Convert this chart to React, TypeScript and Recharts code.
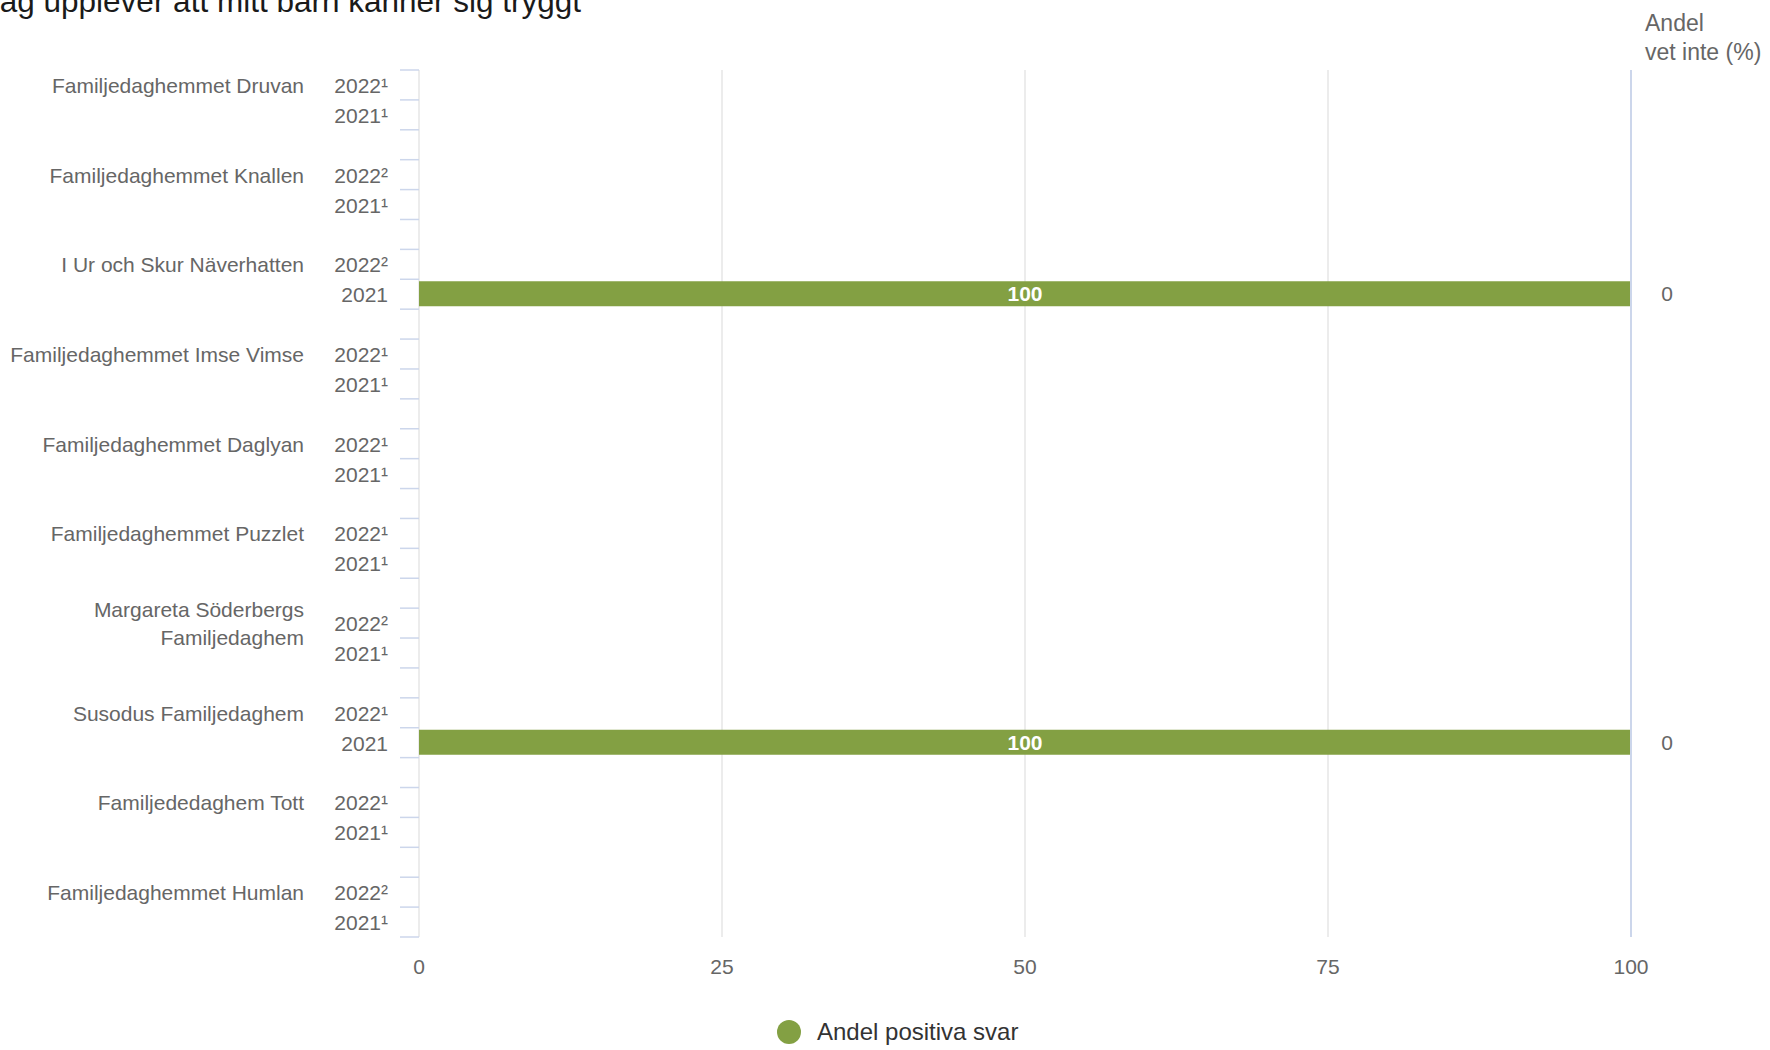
import React from "react";
import {
  BarChart,
  Bar,
  XAxis,
  YAxis,
  CartesianGrid,
  LabelList,
  Legend,
} from "recharts";

// ---- data ----
const title = "Jag upplever att mitt barn känner sig tryggt";
const sideHeader = ["Andel", "vet inte (%)"];
const seriesName = "Andel positiva svar";

const groups = [
  "Familjedaghemmet Druvan",
  "Familjedaghemmet Knallen",
  "I Ur och Skur Näverhatten",
  "Familjedaghemmet Imse Vimse",
  "Familjedaghemmet Daglyan",
  "Familjedaghemmet Puzzlet",
  "Margareta Söderbergs Familjedaghem",
  "Susodus Familjedaghem",
  "Familjededaghem Tott",
  "Familjedaghemmet Humlan",
];
const years2022 = ["2022¹", "2022²", "2022²", "2022¹", "2022¹", "2022¹", "2022²", "2022¹", "2022¹", "2022²"];
const years2021 = ["2021¹", "2021¹", "2021", "2021¹", "2021¹", "2021¹", "2021¹", "2021", "2021¹", "2021¹"];
const positive2022: (number | null)[] = [null, null, null, null, null, null, null, null, null, null];
const positive2021: (number | null)[] = [null, null, 100, null, null, null, null, 100, null, null];
const vetInte2022: (number | null)[] = [null, null, null, null, null, null, null, null, null, null];
const vetInte2021: (number | null)[] = [null, null, 0, null, null, null, null, 0, null, null];
const xTicks = [0, 25, 50, 75, 100];

// ---- layout / style ----
const W = 1770;
const H = 1050;
const TOP = 70;
const BOTTOM_MARGIN = 73;
const X_AXIS_H = 40;
const LEFT_W = 419;
const RIGHT_W = 139;
const FONT = "'Liberation Sans', Arial, Helvetica, sans-serif";
const LABEL_COLOR = "#666666";
const GREEN = "#83A043";
const TICK_BLUE = "#ccd6eb";

type Row = {
  id: string;
  group: string;
  year: string;
  positive: number | null;
  vetInte: number | null;
};

const rows: Row[] = [];
groups.forEach((g, i) => {
  rows.push({ id: `${i}-a`, group: g, year: years2022[i], positive: positive2022[i], vetInte: vetInte2022[i] });
  rows.push({ id: `${i}-b`, group: "", year: years2021[i], positive: positive2021[i], vetInte: vetInte2021[i] });
  if (i < groups.length - 1) {
    rows.push({ id: `${i}-gap`, group: "", year: "", positive: null, vetInte: null });
  }
});
const rowById: Record<string, Row> = {};
rows.forEach((r) => (rowById[r.id] = r));

const PLOT_H = H - TOP - BOTTOM_MARGIN - X_AXIS_H;
const BAND = PLOT_H / rows.length;

function wrap(text: string, max = 28): string[] {
  const words = text.split(" ");
  const lines: string[] = [];
  let cur = "";
  words.forEach((w) => {
    const next = cur ? cur + " " + w : w;
    if (next.length > max && cur) {
      lines.push(cur);
      cur = w;
    } else {
      cur = next;
    }
  });
  if (cur) lines.push(cur);
  return lines;
}

const LeftTick = (props: any) => {
  const { x, y, payload, index } = props;
  const row = rowById[payload.value];
  const lines = row && row.group ? wrap(row.group) : [];
  const isLast = index === rows.length - 1;
  return (
    <g>
      <line x1={x - 19} x2={x} y1={y - BAND / 2} y2={y - BAND / 2} stroke={TICK_BLUE} strokeWidth={1.5} />
      {isLast && (
        <line x1={x - 19} x2={x} y1={y + BAND / 2} y2={y + BAND / 2} stroke={TICK_BLUE} strokeWidth={1.5} />
      )}
      {row && row.year && (
        <text x={x - 31} y={y + 8} textAnchor="end" fontSize={21} fill={LABEL_COLOR} fontFamily={FONT}>
          {row.year}
        </text>
      )}
      {lines.map((ln, k) => (
        <text
          key={k}
          x={x - 115}
          y={y + 8 + (k - (lines.length - 1) / 2) * 28}
          textAnchor="end"
          fontSize={21}
          fill={LABEL_COLOR}
          fontFamily={FONT}
        >
          {ln}
        </text>
      ))}
    </g>
  );
};

const RightTick = (props: any) => {
  const { x, y, payload } = props;
  const row = rowById[payload.value];
  if (!row || row.vetInte === null || row.vetInte === undefined) return <g />;
  return (
    <text x={x + 36} y={y + 7} textAnchor="middle" fontSize={21} fill={LABEL_COLOR} fontFamily={FONT}>
      {row.vetInte}
    </text>
  );
};

const XTick = (props: any) => {
  const { x, y, payload } = props;
  return (
    <text x={x} y={y + 37} textAnchor="middle" fontSize={21} fill={LABEL_COLOR} fontFamily={FONT}>
      {payload.value}
    </text>
  );
};

const LegendContent = () => (
  <div style={{ display: "flex", alignItems: "center", height: 24, fontFamily: FONT }}>
    <span
      style={{ width: 24, height: 24, borderRadius: 12, background: GREEN, display: "inline-block" }}
    />
    <span style={{ marginLeft: 16, fontSize: 24, color: "#333333", lineHeight: "24px", whiteSpace: "nowrap" }}>
      {seriesName}
    </span>
  </div>
);

export default function App() {
  return (
    <div
      style={{
        position: "absolute",
        left: 0,
        top: 0,
        width: W,
        height: H,
        overflow: "hidden",
        background: "#ffffff",
        fontFamily: FONT,
      }}
    >
      <BarChart
        width={W}
        height={H}
        data={rows}
        layout="vertical"
        margin={{ top: TOP, right: 0, bottom: BOTTOM_MARGIN, left: 0 }}
      >
        <CartesianGrid horizontal={false} vertical={true} stroke="#e6e6e6" strokeWidth={1.5} />
        <XAxis
          type="number"
          domain={[0, 100]}
          ticks={xTicks}
          height={X_AXIS_H}
          axisLine={false}
          tickLine={false}
          tickSize={0}
          tickMargin={0}
          tick={<XTick />}
          interval={0}
        />
        <YAxis
          yAxisId="left"
          type="category"
          dataKey="id"
          width={LEFT_W}
          axisLine={false}
          tickLine={false}
          tickSize={0}
          tickMargin={0}
          interval={0}
          tick={<LeftTick />}
        />
        <YAxis
          yAxisId="right"
          orientation="right"
          type="category"
          dataKey="id"
          width={RIGHT_W}
          axisLine={{ stroke: TICK_BLUE, strokeWidth: 2 }}
          tickLine={false}
          tickSize={0}
          tickMargin={0}
          interval={0}
          tick={<RightTick />}
        />
        <Bar
          yAxisId="left"
          dataKey="positive"
          name={seriesName}
          fill={GREEN}
          barSize={25}
          isAnimationActive={false}
        >
          <LabelList
            dataKey="positive"
            position="center"
            fill="#ffffff"
            fontSize={21}
            fontWeight="bold"
            fontFamily={FONT}
          />
        </Bar>
        <Legend
          layout="vertical"
          align="center"
          verticalAlign="middle"
          wrapperStyle={{ left: 777, top: 1020, width: 320, height: 24 }}
          content={<LegendContent />}
        />
      </BarChart>
      <svg
        width={W}
        height={H}
        style={{ position: "absolute", left: 0, top: 0, pointerEvents: "none" }}
      >
        <text x={-16} y={12} fontSize={31.5} fill="#1a1a1a" fontFamily={FONT}>
          {title}
        </text>
        <text x={1645} y={31} fontSize={23} fill={LABEL_COLOR} fontFamily={FONT}>
          {sideHeader[0]}
        </text>
        <text x={1645} y={60} fontSize={23} fill={LABEL_COLOR} fontFamily={FONT}>
          {sideHeader[1]}
        </text>
      </svg>
    </div>
  );
}
